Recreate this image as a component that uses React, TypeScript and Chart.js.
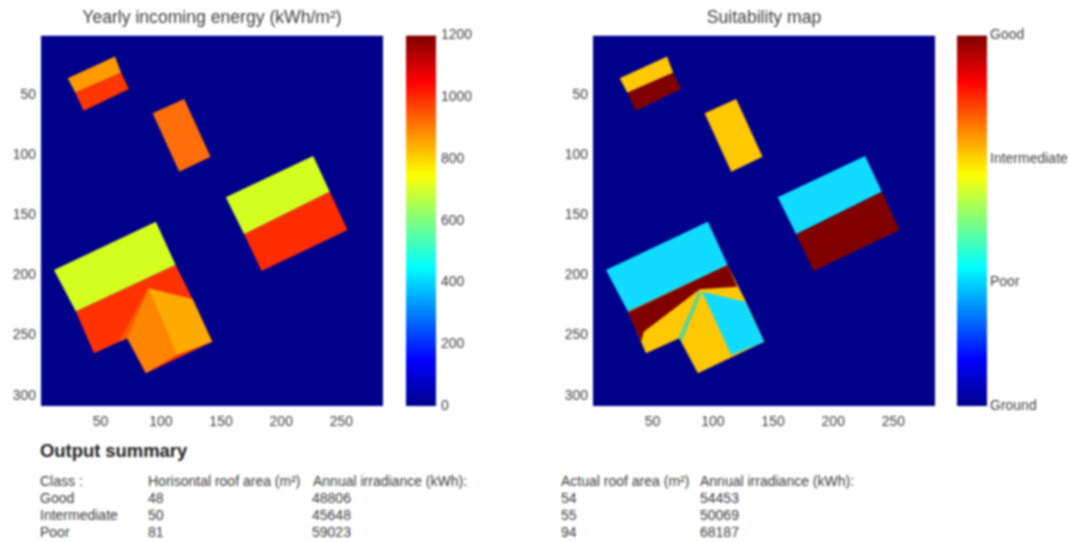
import React, { useEffect, useRef } from "react";
import { Chart, registerables } from "chart.js";

Chart.register(...registerables);

type Pt = [number, number];

// ---- data, in image cell coordinates (column, row) ----
const gridColumns: Pt = [0.5, 284.5];
const gridRows: Pt = [0.5, 308.5];
const xTickValues = [50, 100, 150, 200, 250];
const yTickValues = [50, 100, 150, 200, 250, 300];

const ground: Pt[] = [[0.5, 0.5], [284.5, 0.5], [284.5, 308.5], [0.5, 308.5]];

const roofATop: Pt[] = [[62, 18], [22.7, 36], [29, 48], [67, 31.5]];
const roofABottom: Pt[] = [[29, 48], [67, 31.5], [73.5, 45], [36, 63]];
const roofB: Pt[] = [[119.4, 53.3], [93.2, 65.2], [115.3, 113.7], [141.3, 101.2]];
const roofCTop: Pt[] = [[226.5, 100.7], [154, 135], [169.2, 165.8], [240.3, 130.3]];
const roofCBottom: Pt[] = [[169.2, 165.8], [240.3, 130.3], [255, 162.2], [183.7, 196.3]];
const roofDTop: Pt[] = [[95.9, 155.3], [11.3, 195.4], [29.5, 230], [112.3, 191.3]];
const roofDLower: Pt[] = [[29.5, 230], [112.3, 191.3], [126.4, 219.5], [142.7, 255], [87.6, 281.3], [72.1, 252.2], [44.5, 264.7]];
const roofDWedge: Pt[] = [[89.5, 210.6], [72.1, 252.2], [65, 255]];
const roofDLeftFacet: Pt[] = [[89.5, 210.6], [72.1, 252.2], [87.6, 281.3], [113.1, 266]];
const roofDRightFacet: Pt[] = [[89.5, 210.6], [126.4, 219.5], [142.7, 255], [113.1, 266]];

const suitBrownStrip: Pt[] = [[112.3, 191.3], [120.2, 209.3], [89.1, 211.5], [42.7, 246.7], [40.5, 255], [29.4, 230.5]];
const suitTeal: Pt[] = [[88.5, 212.5], [71.7, 251.4], [74, 255], [90.5, 215]];
const suitCyanFacet: Pt[] = [[91.1, 213.5], [127, 221.8], [142.7, 255], [115.2, 266.1]];

const energyTicks = [0, 200, 400, 600, 800, 1000, 1200];
const classLevels = [0, 1, 2, 3];
const classNames = ["Ground", "Poor", "Intermediate", "Good"];

const jetStops = [0, 0.125, 0.375, 0.625, 0.875, 1];
const jetColors = ["#00008b", "#0000ff", "#00ffff", "#ffff00", "#ff0000", "#800000"];

const NAVY = "#00008b";
const energyLayers: [Pt[], string][] = [
  [ground, NAVY],
  [roofATop, "#ff9a00"],
  [roofABottom, "#ff3600"],
  [roofB, "#ff6e08"],
  [roofCTop, "#d4ff1e"],
  [roofCBottom, "#ff2c00"],
  [roofDTop, "#d4ff1e"],
  [roofDLower, "#ff3300"],
  [roofDWedge, "#ff5a00"],
  [roofDLeftFacet, "#ff8400"],
  [roofDRightFacet, "#ffaa00"],
];
const BROWN = "#800000";
const CYAN = "#10dcff";
const AMBER = "#ffc800";
const suitLayers: [Pt[], string][] = [
  [ground, NAVY],
  [roofATop, AMBER],
  [roofABottom, BROWN],
  [roofB, AMBER],
  [roofCTop, CYAN],
  [roofCBottom, BROWN],
  [roofDTop, CYAN],
  [roofDLower, AMBER],
  [suitBrownStrip, BROWN],
  [suitTeal, "#50d8a0"],
  [suitCyanFacet, CYAN],
];

const summaryHeadL = ["Class :", "Horisontal roof area (m²)", "Annual irradiance (kWh):"];
const summaryClass = ["Good", "Intermediate", "Poor"];
const summaryHorizontal = ["48", "50", "81"];
const summaryIrrH = ["48806", "45648", "59023"];
const summaryHeadR = ["Actual roof area (m²)", "Annual irradiance (kWh):"];
const summaryActual = ["54", "55", "94"];
const summaryIrrA = ["54453", "50069", "68187"];

const FONT = "'Liberation Sans', Arial, sans-serif";
const TEXT = "#3c3c3c";

function MapPanel({ left, title, layers }: { left: number; title: string; layers: [Pt[], string][] }) {
  const ref = useRef<HTMLCanvasElement>(null);
  useEffect(() => {
    const chart = new Chart(ref.current!, {
      type: "scatter",
      data: {
        // first dataset is painted last, so reverse the back-to-front list
        datasets: [...layers].reverse().map(([pts, color]) => ({
          data: pts.map(([x, y]) => ({ x, y })),
          showLine: true,
          fill: "shape",
          backgroundColor: color,
          borderColor: color,
          borderWidth: 0,
          pointRadius: 0,
          tension: 0,
        })),
      } as any,
      options: {
        animation: false,
        responsive: false,
        layout: { padding: { left: 0, right: 41, top: 0, bottom: 0 } },
        plugins: {
          legend: { display: false },
          tooltip: { enabled: false },
          title: {
            display: true,
            text: title,
            color: TEXT,
            fullSize: false,
            font: { family: FONT, size: 17.6, weight: "normal", lineHeight: 1.2 },
            padding: { top: 8, bottom: 6.4 },
          },
        },
        scales: {
          x: {
            type: "linear",
            min: gridColumns[0],
            max: gridColumns[1],
            grid: { display: false, tickLength: 0 },
            border: { display: false },
            afterBuildTicks: (a: any) => { a.ticks = xTickValues.map((value) => ({ value })); },
            afterFit: (a: any) => { a.height = 29; },
            ticks: { color: TEXT, font: { family: FONT, size: 14 }, padding: 8, maxRotation: 0, autoSkip: false },
          },
          y: {
            type: "linear",
            reverse: true,
            min: gridRows[0],
            max: gridRows[1],
            grid: { display: false, tickLength: 0 },
            border: { display: false },
            afterBuildTicks: (a: any) => { a.ticks = yTickValues.map((value) => ({ value })); },
            afterFit: (a: any) => { a.width = 41; },
            ticks: { color: TEXT, font: { family: FONT, size: 14 }, padding: 5, autoSkip: false },
          },
        },
      },
    } as any);
    return () => chart.destroy();
  }, []);
  return <canvas ref={ref} width={424} height={435} style={{ position: "absolute", left, top: 0 }} />;
}

function ColorBar({ left, width, max, ticks, labels, pad }: { left: number; width: number; max: number; ticks: number[]; labels?: string[]; pad: number }) {
  const ref = useRef<HTMLCanvasElement>(null);
  useEffect(() => {
    const chart = new Chart(ref.current!, {
      type: "bar",
      data: {
        labels: ["scale"],
        datasets: [
          {
            data: [max],
            barPercentage: 1,
            categoryPercentage: 1,
            borderWidth: 0,
            backgroundColor: (c: any) => {
              const area = c.chart.chartArea;
              if (!area) return NAVY;
              const g = c.chart.ctx.createLinearGradient(0, area.bottom, 0, area.top);
              jetStops.forEach((s, i) => g.addColorStop(s, jetColors[i]));
              return g;
            },
          },
        ],
      },
      options: {
        animation: false,
        responsive: false,
        layout: { padding: { top: 35.5, bottom: 14, left: 0, right: 0 } },
        plugins: { legend: { display: false }, tooltip: { enabled: false } },
        scales: {
          x: { display: false },
          y: {
            position: "right",
            min: 0,
            max,
            grid: { display: false, tickLength: 0 },
            border: { display: false },
            afterBuildTicks: (a: any) => { a.ticks = ticks.map((value) => ({ value })); },
            afterFit: (a: any) => { a.width = width - 30; },
            ticks: {
              color: TEXT,
              font: { family: FONT, size: 14 },
              padding: pad,
              autoSkip: false,
              callback: (v: any) => (labels ? labels[ticks.indexOf(v)] : String(v)),
            },
          },
        },
      },
    } as any);
    return () => chart.destroy();
  }, []);
  return <canvas ref={ref} width={width} height={420} style={{ position: "absolute", left, top: 0 }} />;
}

function Cell({ x, y, text }: { x: number; y: number; text: string }) {
  return (
    <div style={{ position: "absolute", left: x, top: y - 8, lineHeight: "16px", fontFamily: FONT, fontSize: 14, color: TEXT, whiteSpace: "nowrap" }}>
      {text}
    </div>
  );
}

export default function App() {
  document.body.style.margin = "0";
  const rowY = [498, 515, 532];
  return (
    <div style={{ position: "absolute", left: 0, top: 0, width: 1070, height: 542, overflow: "hidden", background: "#fff", filter: "blur(0.8px)" }}>
      <MapPanel left={0} title="Yearly incoming energy (kWh/m²)" layers={energyLayers} />
      <MapPanel left={552} title="Suitability map" layers={suitLayers} />
      <ColorBar left={406} width={80} max={1200} ticks={energyTicks} pad={5} />
      <ColorBar left={957} width={113} max={3} ticks={classLevels} labels={classNames} pad={3} />
      <div style={{ position: "absolute", left: 40, top: 440, lineHeight: "22px", fontFamily: FONT, fontWeight: "bold", fontSize: 18.4, color: "#222" }}>
        Output summary
      </div>
      <Cell x={40} y={481} text={summaryHeadL[0]} />
      <Cell x={148} y={481} text={summaryHeadL[1]} />
      <Cell x={313} y={481} text={summaryHeadL[2]} />
      <Cell x={561} y={481} text={summaryHeadR[0]} />
      <Cell x={700} y={481} text={summaryHeadR[1]} />
      {rowY.map((y, i) => (
        <React.Fragment key={i}>
          <Cell x={40} y={y} text={summaryClass[i]} />
          <Cell x={148} y={y} text={summaryHorizontal[i]} />
          <Cell x={312} y={y} text={summaryIrrH[i]} />
          <Cell x={561} y={y} text={summaryActual[i]} />
          <Cell x={700} y={y} text={summaryIrrA[i]} />
        </React.Fragment>
      ))}
    </div>
  );
}
